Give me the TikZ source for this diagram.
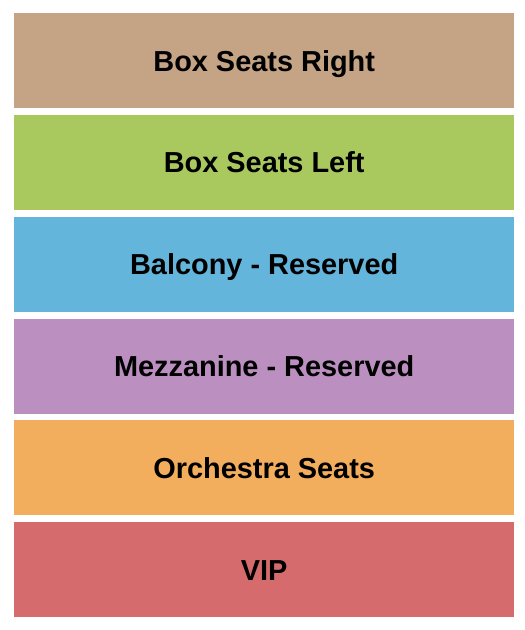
\documentclass[tikz,border=0pt]{standalone}
\usepackage{fontspec}
\setmainfont{Liberation Sans}
\usetikzlibrary{calc}

\definecolor{boxright}{RGB}{196,164,132}
\definecolor{boxleft}{RGB}{169,201,94}
\definecolor{balcony}{RGB}{99,181,220}
\definecolor{mezz}{RGB}{188,143,193}
\definecolor{orch}{RGB}{243,174,93}
\definecolor{vip}{RGB}{214,107,109}

\begin{document}
\begin{tikzpicture}[x=1pt,y=-1pt,
        section/.style={draw=none,inner sep=0pt,minimum width=500pt,minimum height=95pt,anchor=north west,
          text height=20.7pt,text depth=0pt,font=\fontsize{28.9}{32}\selectfont\bfseries}]

  %% Page frame
  \useasboundingbox[fill=white] (0,0) rectangle (525,630);

  %% One band for each section, from top to bottom
  \foreach \i/\col/\t in {0/boxright/Box Seats Right,1/boxleft/Box Seats Left,2/balcony/Balcony - Reserved,
                          3/mezz/Mezzanine - Reserved,4/orch/Orchestra Seats,5/vip/VIP}{
    \node[section,fill=\col] (sec\i) at (14,13+101.8*\i) {\t};
  }

\end{tikzpicture}
\end{document}
